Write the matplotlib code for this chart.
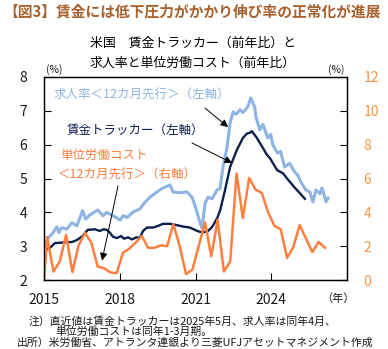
import matplotlib
matplotlib.use("Agg")
import matplotlib.pyplot as plt

plt.rcParams['font.family'] = ['Noto Sans CJK JP', 'DejaVu Sans']

# ---------------- data ----------------
# Job openings rate (12-month lead), left axis
jo_dates = [2015.00, 2015.16, 2015.35, 2015.51, 2015.59, 2015.70, 2015.90, 2016.10, 2016.30,
            2016.53, 2016.65, 2016.81, 2017.13, 2017.33, 2017.49, 2017.89, 2018.01, 2018.13,
            2018.29, 2018.53, 2018.80, 2019.00, 2019.20, 2019.47, 2019.71, 2019.99, 2020.11,
            2020.39, 2020.66, 2020.86, 2020.98, 2021.18, 2021.26, 2021.38, 2021.50, 2021.66,
            2021.85, 2021.97, 2022.09, 2022.25, 2022.37, 2022.49, 2022.61, 2022.76, 2022.88,
            2023.07, 2023.19, 2023.35, 2023.39, 2023.55, 2023.67, 2023.86, 2023.98, 2024.06,
            2024.17, 2024.25, 2024.37, 2024.53, 2024.73, 2024.93, 2025.05, 2025.17, 2025.37,
            2025.53, 2025.65, 2025.77, 2025.93, 2026.01, 2026.17, 2026.25]
jo_vals = [2.95, 3.24, 3.39, 3.57, 3.40, 3.55, 3.50, 3.69, 3.60, 4.05, 3.80, 3.92, 4.07, 3.90,
           4.00, 3.83, 3.77, 3.90, 3.85, 4.01, 4.10, 4.30, 4.45, 4.60, 4.72, 4.81, 4.60, 4.58,
           4.60, 4.45, 4.20, 3.69, 3.54, 4.27, 4.45, 4.40, 4.66, 4.70, 5.34, 5.93, 6.64, 6.97,
           6.90, 7.03, 6.95, 7.12, 7.38, 7.10, 6.82, 6.44, 6.60, 6.20, 6.30, 6.00, 5.85, 5.75,
           5.80, 5.34, 5.45, 5.19, 5.10, 4.90, 4.66, 4.60, 4.31, 4.66, 4.55, 4.72, 4.31, 4.42]

# Atlanta Fed wage tracker, left axis
wt_dates = [2015.00, 2015.08, 2015.24, 2015.43, 2015.63, 2015.90, 2016.10, 2016.30, 2016.53,
            2016.73, 2017.01, 2017.21, 2017.37, 2017.49, 2017.61, 2017.73, 2017.89, 2018.05,
            2018.17, 2018.33, 2018.49, 2018.65, 2018.80, 2018.92, 2019.08, 2019.32, 2019.52,
            2019.71, 2019.99, 2020.27, 2020.50, 2020.78, 2020.98, 2021.18, 2021.46, 2021.66,
            2021.86, 2021.98, 2022.17, 2022.37, 2022.64, 2022.88, 2023.04, 2023.15, 2023.23,
            2023.43, 2023.63, 2023.83, 2023.95, 2024.23, 2024.47, 2024.67, 2024.94, 2025.13,
            2025.33]
wt_vals = [2.70, 2.90, 2.95, 3.09, 3.10, 3.12, 3.12, 3.18, 3.30, 3.48, 3.50, 3.45, 3.50, 3.48,
           3.40, 3.28, 3.24, 3.30, 3.22, 3.26, 3.20, 3.26, 3.25, 3.45, 3.55, 3.55, 3.60, 3.66,
           3.66, 3.62, 3.58, 3.55, 3.48, 3.42, 3.42, 3.57, 3.83, 4.07, 4.66, 5.34, 5.85, 6.20,
           6.33, 6.35, 6.40, 6.20, 5.95, 5.70, 5.60, 5.25, 5.15, 4.96, 4.72, 4.57, 4.40]

# Unit labor cost (12-month lead), right axis, quarterly
ulc_dates = [2015.00] + [2015.125 + 0.25 * i for i in range(45)]
ulc_vals = [0.0,
            2.54, 0.50, 1.10, 2.66, 0.47, 2.07, 2.78, 2.20, 0.80, 0.70,
            0.45, 0.40, 1.60, 1.85, 2.20, 2.60, 1.90, 1.90, 2.05, 2.00,
            3.30, 2.00, 0.35, 0.60, 2.00, 3.40, 1.40, 3.55, 0.50, 1.10,
            6.30, 3.66, 6.03, 5.35, 5.15, 4.00, 3.20, 3.00, 1.30, 1.95,
            3.25, 2.45, 1.65, 2.25, 1.90]

x_ticks = [2015, 2018, 2021, 2024]
left_ticks = [2, 3, 4, 5, 6, 7, 8]
right_ticks = [0, 2, 4, 6, 8, 10, 12]

# ---------------- styles ----------------
C_JO = '#8DB4E2'
C_WT = '#0D1F4F'
C_ULC = '#FF7F3F'
C_RT = '#F79646'
C_HEAD = '#A8602C'
C_TXT = '#1A1A1A'

W, H = 388, 349
fig = plt.figure(figsize=(W / 100, H / 100), dpi=100)
fig.patch.set_facecolor('white')


def fx(x):
    return x / W


def fy(y):
    return 1 - y / H


ax = fig.add_axes([fx(44), fy(280), fx(347) - fx(44), fy(77) - fy(280)])
ax2 = ax.twinx()

ax.plot(jo_dates, jo_vals, color=C_JO, lw=2.2, solid_joinstyle='round', zorder=2)
ax.plot(wt_dates, wt_vals, color=C_WT, lw=1.7, solid_joinstyle='round', zorder=3)
ax2.plot(ulc_dates, ulc_vals, color=C_ULC, lw=1.8, solid_joinstyle='round', zorder=2)

ax.set_xlim(2015, 2027)
ax.set_ylim(2, 8)
ax2.set_ylim(0, 12)
ax.set_xticks(x_ticks)
ax.set_xticklabels([str(t) for t in x_ticks])
ax.set_yticks(left_ticks)
ax2.set_yticks(right_ticks)

ax.tick_params(axis='x', direction='in', length=5, width=0.8, pad=9, labelsize=10,
               labelcolor=C_TXT)
ax.tick_params(axis='y', direction='in', length=5, width=0.8, pad=12, labelsize=10,
               labelcolor=C_TXT)
ax2.tick_params(axis='y', direction='in', length=5, width=0.8, pad=12, labelsize=10,
                labelcolor=C_RT)
for a in (ax, ax2):
    for s in a.spines.values():
        s.set_linewidth(0.9)
        s.set_color('black')

# annotations with arrows
arrow = dict(arrowstyle='-|>', color='black', lw=0.7, mutation_scale=11,
             shrinkA=0, shrinkB=0)
ax.annotate('', xy=(2022.29, 6.52), xytext=(2021.38, 7.08), arrowprops=arrow)
ax.annotate('', xy=(2022.45, 5.46), xytext=(2020.86, 6.05), arrowprops=arrow)
ax2.annotate('', xy=(2017.3, 1.15), xytext=(2017.93, 5.56), arrowprops=arrow)

LBL = 9.0
fig.text(fx(54), fy(95), '求人率＜12カ月先行＞（左軸）', color=C_JO, fontsize=LBL,
         ha='left', va='center')
fig.text(fx(67), fy(130), '賃金トラッカー（左軸）', color=C_WT, fontsize=LBL,
         ha='left', va='center')
fig.text(fx(60), fy(155), '単位労働コスト', color=C_ULC, fontsize=LBL,
         ha='left', va='center')
fig.text(fx(58), fy(175), '＜12カ月先行＞（右軸）', color=C_ULC, fontsize=LBL,
         ha='left', va='center')

# titles
fig.text(fx(3), fy(12), '【図3】賃金には低下圧力がかかり伸び率の正常化が進展', color=C_HEAD,
         fontsize=10.6, fontweight='bold', ha='left', va='center')
fig.text(fx(193), fy(43), '米国　賃金トラッカー（前年比）と', color='black', fontsize=9.3,
         ha='center', va='center')
fig.text(fx(193), fy(63), '求人率と単位労働コスト（前年比）', color='black', fontsize=9.3,
         ha='center', va='center')

fig.text(fx(54), fy(70), '(%)', color=C_TXT, fontsize=7.5, ha='center', va='center')
fig.text(fx(336), fy(70), '(%)', color=C_TXT, fontsize=7.5, ha='center', va='center')
fig.text(fx(338), fy(299), '（年）', color=C_TXT, fontsize=8, ha='center', va='center')

FN = 7.8
fig.text(fx(29), fy(321), '注）直近値は賃金トラッカーは2025年5月、求人率は同年4月、', color=C_TXT,
         fontsize=FN, ha='left', va='center')
fig.text(fx(55), fy(332), '単位労働コストは同年1-3月期。', color=C_TXT,
         fontsize=FN, ha='left', va='center')
fig.text(fx(17), fy(343), '出所）米労働省、アトランタ連銀より三菱UFJアセットマネジメント作成', color=C_TXT,
         fontsize=FN, ha='left', va='center')

fig.savefig('out.png', dpi=100, facecolor='white')
